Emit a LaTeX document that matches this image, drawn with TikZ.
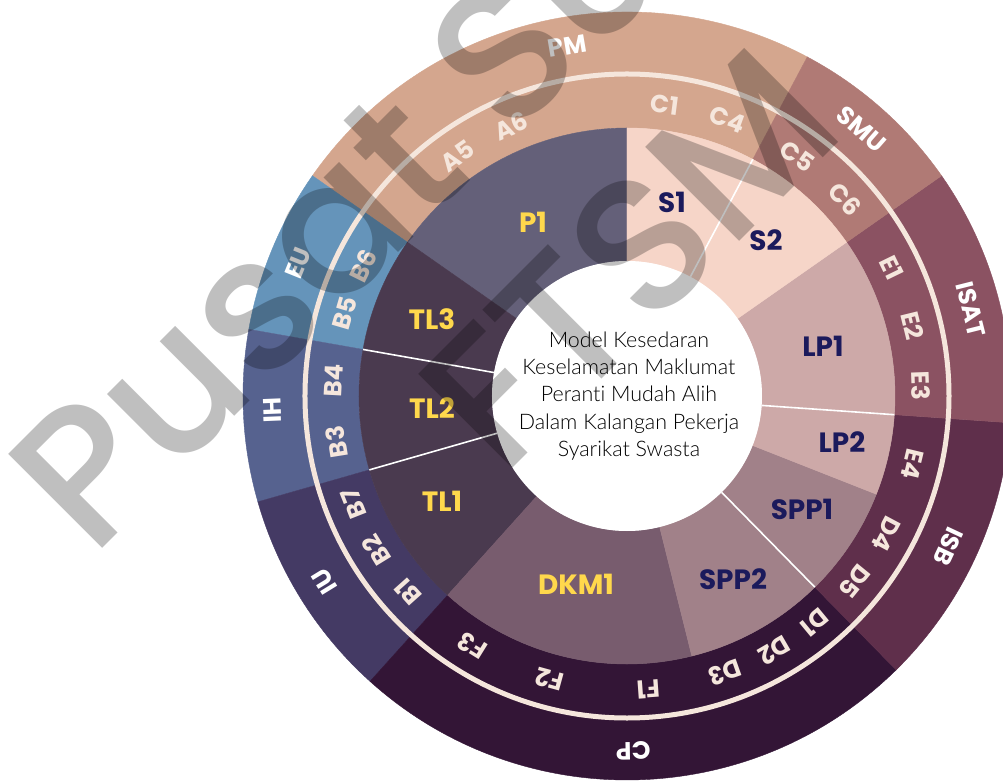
\documentclass[tikz,border=0pt]{standalone}
\usepackage{fontspec}
\setmainfont{Poppins}
\newfontfamily\latofont{Lato Light}[Ligatures=NoCommon]
\newfontfamily\wmfont{Poppins Medium}
\definecolor{pm}{HTML}{D4A68E}
\definecolor{smu}{HTML}{B07A75}
\definecolor{isat}{HTML}{8B5262}
\definecolor{isb}{HTML}{5F2F4B}
\definecolor{cpc}{HTML}{331536}
\definecolor{iu}{HTML}{443A64}
\definecolor{ih}{HTML}{56628F}
\definecolor{eu}{HTML}{6594BA}
\definecolor{p1c}{HTML}{646079}
\definecolor{tlc}{HTML}{4A3A4F}
\definecolor{dkm}{HTML}{785C6E}
\definecolor{spp}{HTML}{A18189}
\definecolor{lpc}{HTML}{CDA9A8}
\definecolor{sc}{HTML}{F6D5C8}
\definecolor{cream}{HTML}{F5E6DC}
\definecolor{ylw}{HTML}{FFD84C}
\definecolor{navy}{HTML}{1B1A5C}
\newcommand\ringsect[5]{\filldraw[fill=#5,draw=#5,line width=0.4bp] (#1:#3bp) arc[start angle=#1,end angle=#2,radius=#3bp] -- (#2:#4bp) arc[start angle=#2,end angle=#1,radius=#4bp] -- cycle;}
\tikzset{
  inlab/.style={inner sep=0pt,font=\fontsize{28}{28}\selectfont\bfseries},
  midlab/.style={inner sep=0pt,text=cream,font=\fontsize{25}{25}\selectfont\bfseries},
  outlab/.style={inner sep=0pt,text=white,font=\fontsize{25}{25}\selectfont\bfseries},
  sepline/.style={draw=white,line width=1.6bp},
  wmark/.style={inner sep=0pt,anchor=base west,rotate=45,text=black,text opacity=0.25,font=\wmfont\fontsize{192}{234}\selectfont}
}
\begin{document}
\begin{tikzpicture}[x=1bp,y=1bp]
\useasboundingbox (-627,-386) rectangle (376,396);
% outer band
\ringsect{62}{145}{268}{384}{pm}
\ringsect{145}{170}{268}{384}{eu}
\ringsect{170}{196}{268}{384}{ih}
\ringsect{196}{228}{268}{384}{iu}
\ringsect{228}{314.5}{268}{384}{cpc}
\ringsect{314.5}{356}{268}{384}{isb}
\ringsect{-4}{35}{268}{384}{isat}
\ringsect{35}{62}{268}{384}{smu}
% inner ring
\ringsect{90}{145}{135}{268}{p1c}
\ringsect{145}{228}{135}{268}{tlc}
\ringsect{228}{284}{135}{268}{dkm}
\ringsect{284}{338.5}{135}{268}{spp}
\ringsect{338.5}{395}{135}{268}{lpc}
\ringsect{35}{90}{135}{268}{sc}
\fill[white] (0,0) circle[radius=135bp];
% separators
\draw[sepline] (170:135bp) -- (170:268bp);
\draw[sepline] (196:135bp) -- (196:268bp);
\draw[sepline] (314.5:135bp) -- (314.5:268bp);
\draw[sepline] (356:135bp) -- (356:268bp);
\draw[sepline] (62:135bp) -- (62:268bp);
\draw[cream,line width=5bp] (0,0) circle[radius=322bp];
% inner labels
\node[inlab,text=ylw] (p1) at (-94,174) {P1};
\node[inlab,text=navy] (s1) at (45,194) {S1};
\node[inlab,text=navy] (s2) at (139,156) {S2};
\node[inlab,text=navy] (lp1) at (196,50) {LP1};
\node[inlab,text=navy] (lp2) at (215,-46) {LP2};
\node[inlab,text=navy] (spp1) at (175,-113) {SPP1};
\node[inlab,text=navy] (spp2) at (106,-183) {SPP2};
\node[inlab,text=ylw] (dkm1) at (-51,-188) {DKM1};
\node[inlab,text=ylw] (tl1) at (-185,-105) {TL1};
\node[inlab,text=ylw] (tl2) at (-195,-12) {TL2};
\node[inlab,text=ylw] (tl3) at (-195,77) {TL3};
% middle labels
\foreach \a/\t/\n in {125.2/A5/a5,113.2/A6/a6,82.6/C1/c1,70.1/C4/c4,54.6/C5/c5,42/C6/c6,25.9/E1/e1,13.8/E2/e2,2/E3/e3,-13.5/E4/e4,-28/D4/d4,-39.2/D5/d5,-50.4/D1/d1,-59.9/D2/d2,-70.5/D3/d3,-85.8/F1/f1,254.7/F2/f2,238.2/F3/f3,221.9/B1/b1,211.6/B2/b2,201.5/B7/b7,189/B3/b3,177/B4/b4,163.7/B5/b5,153.7/B6/b6}
  {\node[midlab,rotate=\a-90] (\n) at (\a:294bp) {\t};}
% outer labels
\foreach \a/\t/\n in {99.7/PM/pm,48.7/SMU/smu,14.1/ISAT/isat,-25.1/ISB/isb,-89/CP/cp,211.5/IU/iu,182.3/IH/ih,158/EU/eu}
  {\node[outlab,rotate=\a-90] (o\n) at (\a:355bp) {\t};}
% centre
\node[align=center,inner sep=0pt,font=\latofont\fontsize{21.5}{27.5}\selectfont] (centre) at (2,0) {Model Kesedaran\\Keselamatan Maklumat\\Peranti Mudah Alih\\Dalam Kalangan Pekerja\\Syarikat Swasta};
% watermark
\node[wmark] (wm1) at (-535,-163) {Pusat Sumber};
\node[wmark] (wm2) at (-125,-83) {FTSM};
\end{tikzpicture}
\end{document}
